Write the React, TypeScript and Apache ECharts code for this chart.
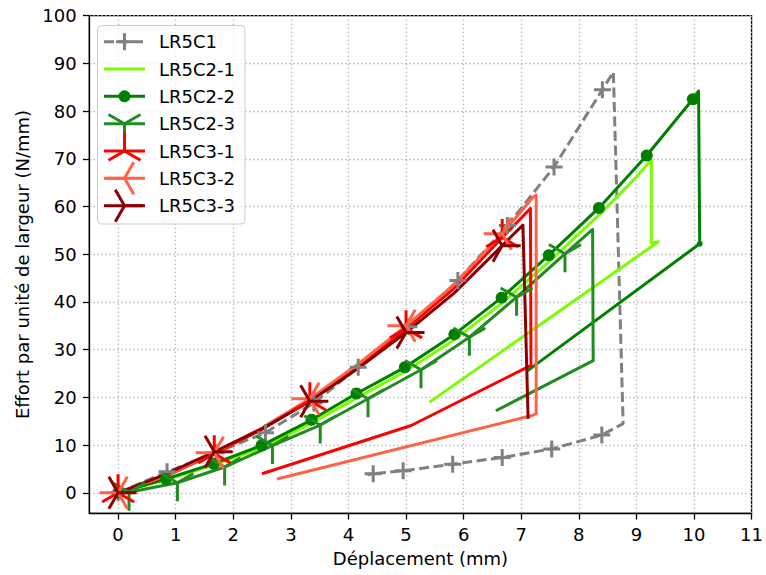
import React, { useEffect, useRef } from "react";
import * as echarts from "echarts";

// ---------- axis ticks ----------
const xTicks = [0, 1, 2, 3, 4, 5, 6, 7, 8, 9, 10, 11];
const yTicks = [0, 10, 20, 30, 40, 50, 60, 70, 80, 90, 100];

// ---------- data (x: déplacement mm, y: effort N/mm) ----------
const lr5c1 = [
  [0, 0], [0.85, 4.4], [1.7, 8.4], [2.56, 12.6], [3.4, 18.8], [4.17, 26.3], [5.05, 34.8],
  [5.9, 44.5], [6.76, 56.0], [7.57, 68.3], [8.41, 84.5], [8.6, 88.2], [8.77, 14.5],
  [8.4, 12.1], [7.53, 9.2], [6.67, 7.4], [5.81, 6.0], [4.95, 4.6], [4.43, 4.0], [4.33, 3.8],
];
const lr5c1Marks = [0, 1, 2, 3, 4, 5, 6, 7, 8, 9, 10, 13, 14, 15, 16, 17, 18];

const lr5c2_1 = [
  [0, 0], [0.83, 2.7], [1.66, 5.8], [2.49, 9.4], [3.36, 14.6], [4.14, 19.9], [4.98, 25.4],
  [5.84, 32.1], [6.66, 39.7], [7.48, 48.4], [8.35, 58.2], [9.0, 66.2], [9.26, 69.8],
  [9.26, 52.3], [9.38, 52.6], [5.41, 19.0],
];
const lr5c2_1Marks: number[] = [];

const lr5c2_2 = [
  [0, 0], [0.83, 2.9], [1.66, 6.1], [2.49, 9.9], [3.36, 15.3], [4.14, 20.8], [4.98, 26.3],
  [5.84, 33.2], [6.66, 40.9], [7.48, 49.8], [8.35, 59.7], [9.18, 70.7], [9.98, 82.5],
  [10.08, 84.2], [10.1, 52.2], [7.1, 25.5],
];
const lr5c2_2Marks = [0, 1, 2, 3, 4, 5, 6, 7, 8, 9, 10, 11, 12];
const lr5c2_2Dots = [14];

const lr5c2_3 = [
  [0, 0], [0.19, 0.1], [1.03, 2.1], [1.85, 5.4], [2.68, 9.9], [3.51, 14.2], [4.34, 19.7],
  [5.26, 25.8], [6.1, 32.6], [6.92, 41.0], [7.76, 50.1], [8.24, 55.2], [8.25, 27.7], [6.56, 17.2],
];
const lr5c2_3Marks = [1, 2, 3, 4, 5, 6, 7, 8, 9, 10];

const lr5c3_1 = [
  [0, 0], [0.83, 3.5], [1.67, 8.2], [2.5, 13.3], [3.33, 19.3], [4.17, 26.5], [5.0, 34.4],
  [5.83, 42.8], [6.67, 53.5], [7.0, 57.6], [7.16, 59.6], [7.17, 26.7], [5.09, 14.1], [2.5, 4.0],
];
const lr5c3_1Marks = [0, 2, 4, 6, 8];

const lr5c3_2 = [
  [0, 0], [0.83, 3.6], [1.67, 8.4], [2.5, 13.6], [3.33, 19.7], [4.17, 27.0], [5.0, 35.0],
  [5.83, 43.6], [6.67, 54.3], [7.0, 59.0], [7.2, 61.9], [7.26, 62.4], [7.26, 16.6],
  [7.19, 16.2], [2.76, 2.9],
];
const lr5c3_2Marks = [0, 2, 4, 6, 8];

const lr5c3_3 = [
  [0, 0], [0.83, 3.9], [1.67, 8.6], [2.5, 13.4], [3.33, 19.2], [4.17, 26.1], [5.0, 33.6],
  [5.83, 41.8], [6.67, 51.8], [6.9, 54.6], [7.03, 56.1], [7.12, 15.5],
];
const lr5c3_3Marks = [0, 2, 4, 6, 8];

// ---------- styling ----------
const FONT = "DejaVu Sans";
const LW = 3;
const S3 = Math.sqrt(3) / 2;
const DIRS: Record<string, number[][]> = {
  plus: [[1, 0], [-1, 0], [0, 1], [0, -1]],
  triDown: [[0, 1], [-S3, -0.5], [S3, -0.5]],
  triUp: [[0, -1], [-S3, 0.5], [S3, 0.5]],
  triLeft: [[-1, 0], [0.5, -S3], [0.5, S3]],
  triRight: [[1, 0], [-0.5, -S3], [-0.5, S3]],
};
function armSymbol(kind: string) {
  const r = 10;
  let d = DIRS[kind]
    .map(([dx, dy]) => `M0 0L${(dx * r).toFixed(3)} ${(dy * r).toFixed(3)}`)
    .join("");
  d += "M-10 -10L-10 -10M10 10L10 10";
  return "path://" + d;
}

type Spec = {
  name: string;
  data: number[][];
  marks: number[];
  dots?: number[];
  color: string;
  marker: string; // 'none' | 'circle' | arm kind
  size: number; // marker full size in px
  dashed?: boolean;
};

const specs: Spec[] = [
  { name: "LR5C1", data: lr5c1, marks: lr5c1Marks, color: "#808080", marker: "plus", size: 17, dashed: true },
  { name: "LR5C2-1", data: lr5c2_1, marks: lr5c2_1Marks, color: "#7CFC00", marker: "none", size: 0 },
  { name: "LR5C2-2", data: lr5c2_2, marks: lr5c2_2Marks, dots: lr5c2_2Dots, color: "#008000", marker: "circle", size: 12 },
  { name: "LR5C2-3", data: lr5c2_3, marks: lr5c2_3Marks, color: "#228B22", marker: "triDown", size: 37 },
  { name: "LR5C3-1", data: lr5c3_1, marks: lr5c3_1Marks, color: "#FF0000", marker: "triUp", size: 37 },
  { name: "LR5C3-2", data: lr5c3_2, marks: lr5c3_2Marks, color: "#FF6347", marker: "triLeft", size: 37 },
  { name: "LR5C3-3", data: lr5c3_3, marks: lr5c3_3Marks, color: "#8B0000", marker: "triRight", size: 37 },
];

function buildSeries(s: Spec) {
  const sym = s.marker === "none" ? "none" : s.marker === "circle" ? "circle" : armSymbol(s.marker);
  const markSet = new Set(s.marks);
  const dotSet = new Set(s.dots || []);
  return {
    type: "line",
    name: s.name,
    data: s.data.map((p, i) =>
      markSet.has(i)
        ? { value: p, symbol: sym, symbolSize: s.size }
        : dotSet.has(i)
        ? { value: p, symbol: "circle", symbolSize: 6 }
        : { value: p, symbol: "none" }
    ),
    symbol: sym,
    symbolSize: s.size,
    showSymbol: true,
    silent: true,
    emphasis: { disabled: true },
    lineStyle: {
      color: s.color,
      width: LW,
      type: s.dashed ? [10, 4.5] : "solid",
      join: "round",
    },
    itemStyle: {
      color: s.color,
      borderColor: s.color,
      borderWidth: s.marker === "circle" ? 0 : LW,
    },
  };
}

function buildLegend() {
  const els: any[] = [];
  const box = { x: 97.5, y: 25.5, w: 147.5, h: 198.5 };
  els.push({
    type: "rect",
    z: 100,
    silent: true,
    shape: { x: box.x, y: box.y, width: box.w, height: box.h, r: 4 },
    style: { fill: "rgba(255,255,255,0.8)", stroke: "#cccccc", lineWidth: 1 },
  });
  const x1 = 104;
  const x2 = 145;
  const cx = (x1 + x2) / 2;
  specs.forEach((s, i) => {
    const y = 41.7 + 27.33 * i;
    els.push({
      type: "line",
      z: 101,
      silent: true,
      shape: { x1, y1: y, x2, y2: y },
      style: { stroke: s.color, lineWidth: LW, lineDash: s.dashed ? [10, 4.5] : null },
    });
    if (s.marker === "circle") {
      els.push({
        type: "circle",
        z: 102,
        silent: true,
        shape: { cx, cy: y, r: s.size / 2 },
        style: { fill: s.color },
      });
    } else if (s.marker !== "none") {
      const r = s.size / 2;
      DIRS[s.marker].forEach(([dx, dy]) => {
        els.push({
          type: "line",
          z: 102,
          silent: true,
          shape: { x1: cx, y1: y, x2: cx + dx * r, y2: y + dy * r },
          style: { stroke: s.color, lineWidth: LW },
        });
      });
    }
    els.push({
      type: "text",
      z: 103,
      silent: true,
      x: 159,
      y: y,
      style: {
        text: s.name,
        fill: "#000",
        fontSize: 18,
        fontFamily: FONT,
        verticalAlign: "middle",
        align: "left",
      },
    });
  });
  return els;
}

export default function App() {
  const ref = useRef<HTMLDivElement>(null);
  useEffect(() => {
    if (!ref.current) return;
    const chart = echarts.init(ref.current, null, { renderer: "svg" });
    const axisCommon = {
      type: "value",
      nameLocation: "middle",
      nameTextStyle: { fontSize: 18, fontFamily: FONT, color: "#000" },
      axisLine: { show: true, onZero: false, lineStyle: { color: "#000", width: 1.3 } },
      splitLine: { show: true, lineStyle: { color: "#b0b0b0", width: 1.3, type: [1.3, 2.7] } },
    };
    const option: any = {
      animation: false,
      backgroundColor: "#ffffff",
      grid: {
        left: 89.3,
        right: 9.3,
        top: 15.7,
        bottom: 61.7,
        show: true,
        borderColor: "#000",
        borderWidth: 1.3,
        backgroundColor: "transparent",
      },
      xAxis: {
        ...axisCommon,
        min: -0.5,
        max: 11,
        name: "Déplacement (mm)",
        nameGap: 36,
        axisTick: { show: true, customValues: xTicks, length: 6.3, lineStyle: { color: "#000", width: 1.3 } },
        axisLabel: { customValues: xTicks, fontSize: 18, fontFamily: FONT, color: "#000", margin: 12.6 },
      },
      yAxis: {
        ...axisCommon,
        min: -4.3,
        max: 100,
        name: "Effort par unité de largeur (N/mm)",
        nameGap: 54,
        axisTick: { show: true, customValues: yTicks, length: 6.3, lineStyle: { color: "#000", width: 1.3 } },
        axisLabel: { customValues: yTicks, fontSize: 18, fontFamily: FONT, color: "#000", margin: 12.6 },
      },
      series: specs.map(buildSeries),
      graphic: buildLegend(),
    };
    chart.setOption(option);
    return () => chart.dispose();
  }, []);
  return (
    <div
      ref={ref}
      style={{ position: "fixed", left: 0, top: 0, width: 766, height: 575, background: "#fff" }}
    />
  );
}
